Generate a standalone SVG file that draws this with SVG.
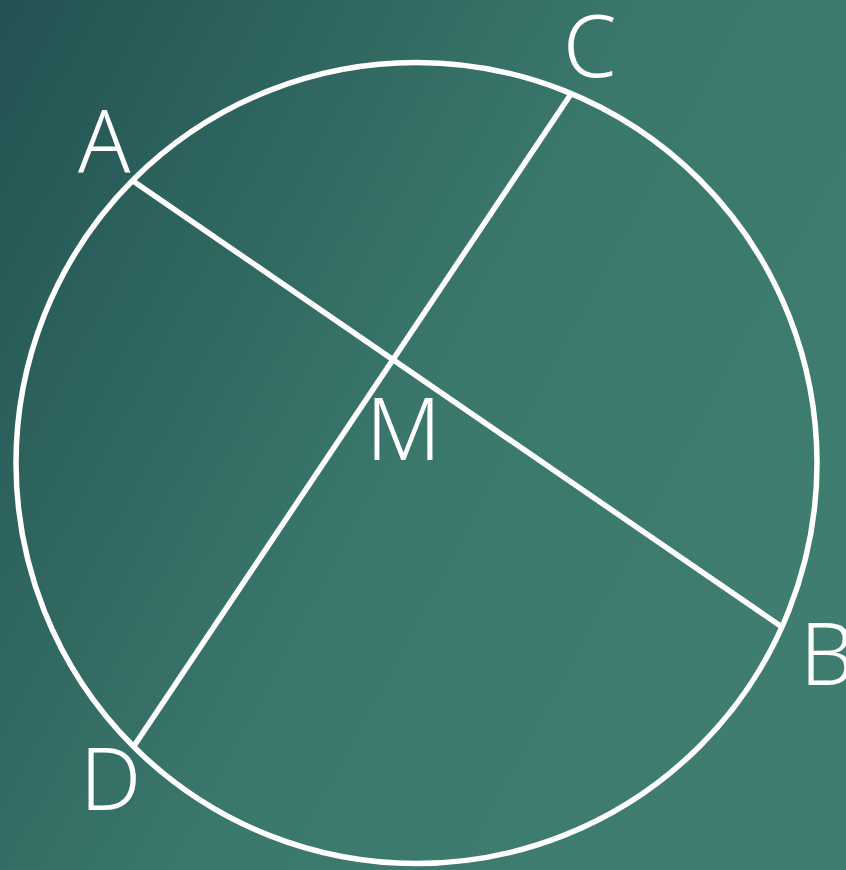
<svg xmlns="http://www.w3.org/2000/svg" width="846" height="870" viewBox="0 0 846 870">
  <defs>
    <linearGradient id="bg" x1="0" y1="0" x2="1" y2="0.55">
      <stop offset="0" stop-color="#225252"/>
      <stop offset="0.6" stop-color="#3b786c"/>
      <stop offset="1" stop-color="#3f7d70"/>
    </linearGradient>
    <style>
      .ln{stroke:#ffffff;stroke-width:5.5;fill:none}
      .lb{fill:#ffffff;font-family:"Noto Sans","Liberation Sans",sans-serif;font-size:86px;font-weight:300}
    </style>
  </defs>
  <rect width="846" height="870" fill="url(#bg)"/>
  <g id="circle"><circle class="ln" cx="416.5" cy="463" r="400.5"/></g>
  <g id="connectors">
    <line class="ln" x1="133" y1="181" x2="782" y2="627"/>
    <line class="ln" x1="571" y1="94" x2="134" y2="746"/>
  </g>
  <g id="A"><text class="lb" x="78" y="172">A</text></g>
  <g id="C"><text class="lb" x="563" y="77">C</text></g>
  <g id="M"><text class="lb" x="366" y="460">M</text></g>
  <g id="B"><text class="lb" x="800" y="685">B</text></g>
  <g id="D"><text class="lb" x="80" y="810">D</text></g>
</svg>
